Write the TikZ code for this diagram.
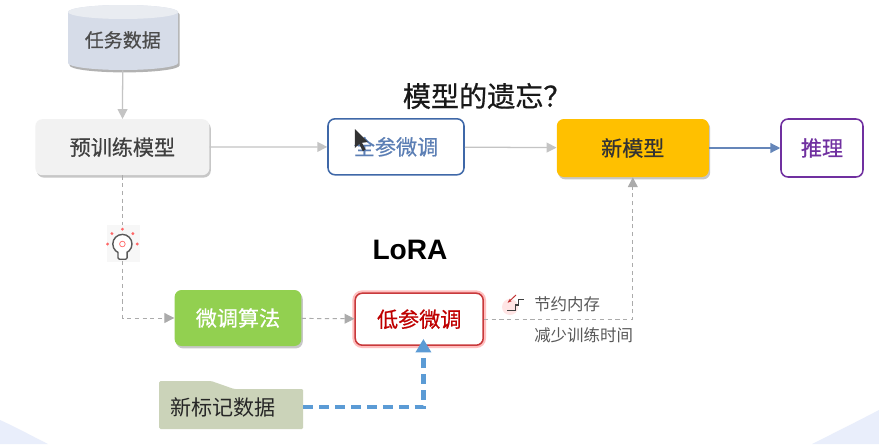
\documentclass[tikz,border=0pt]{standalone}
\usepackage{fontspec}
\setmainfont{Noto Sans CJK SC}
\newfontfamily\latinbold{Liberation Sans}
\newfontfamily\boxfont{Noto Sans CJK SC}[FakeBold=0.6]
\usepackage{tikz}
\usetikzlibrary{positioning,calc,arrows.meta,shadows}
\definecolor{linegray}{HTML}{ABABAB}
\definecolor{softline}{HTML}{C4C4C4}
\definecolor{dbfill}{HTML}{D6DCE8}
\definecolor{dbtop}{HTML}{E9ECF1}
\definecolor{paleblue}{HTML}{E9EEFB}
\definecolor{blueedge}{HTML}{3F68A8}
\definecolor{purpleedge}{HTML}{7030A0}
\definecolor{algogreen}{HTML}{92D050}
\definecolor{amber}{HTML}{FFC000}
\definecolor{loredge}{HTML}{C8393B}
\definecolor{notefill}{HTML}{CBD3B9}
\definecolor{dataline}{HTML}{5B9BD5}

\begin{document}
\begin{tikzpicture}[
    softshadow/.style={drop shadow={shadow xshift=1pt, shadow yshift=-1.7pt, fill=black!40, opacity=0.55}},
    boxnode/.style={rounded corners=5pt, minimum height=1.4cm, align=center, font=\boxfont\fontsize{15}{15}\selectfont},
    outlined/.style={boxnode, draw, line width=1.1pt, fill=white},
    flow/.style={-{Triangle[length=7pt, width=7pt]}, color=softline, line width=0.9pt},
    dashflow/.style={-{Triangle[length=7pt, width=7pt]}, color=linegray, line width=0.7pt, dash pattern=on 3pt off 2.5pt},
    smalltext/.style={font=\fontsize{11.7}{12}\selectfont, text=black!65, anchor=west, inner sep=0pt},
    headline/.style={font=\boxfont\fontsize{20}{20}\selectfont, text=black!90},
]
% page and pale corners
\path[use as bounding box, fill=white] (0, 0) rectangle (21.975, 11.1);
\fill[paleblue] (0, 0) -- (0, 0.6) .. controls (0.4, 0.42) and (0.8, 0.2) .. (1.2, 0) -- cycle;
\fill[paleblue] (21.975, 0) -- (21.975, 0.85) .. controls (21.4, 0.55) and (20.8, 0.25) .. (20.3, 0) -- cycle;

% data drum
\def\drumbody{(1.7, 10.8) -- (1.7, 9.525) arc[start angle=180, end angle=360, x radius=1.375, y radius=0.175] -- (4.45, 10.8) arc[start angle=0, end angle=180, x radius=1.375, y radius=0.175] -- cycle}
\fill[black!40, opacity=0.75, shift={(0.04, -0.06)}] \drumbody;
\fill[dbfill] \drumbody;
\fill[dbtop] (3.075, 10.8) ellipse[x radius=1.375, y radius=0.175];
\node[minimum width=2.75cm, minimum height=1.5cm, inner sep=0pt, font=\boxfont\fontsize{13.5}{14}\selectfont, text=black!70] (db) at (3.07, 10.1) {任务数据};

% top row
\node[boxnode, fill=black!5, minimum width=4.35cm, text=black!75, softshadow] (pretrain) at (3.06, 7.42) {预训练模型};
\node[outlined, draw=blueedge, text=blueedge!85, minimum width=3.4cm] (fulltune) at (9.9, 7.43) {全参微调};
\node[boxnode, fill=amber, minimum width=3.8cm, minimum height=1.45cm, text=black!80, softshadow] (newmodel) at (15.82, 7.4) {新模型};
\node[outlined, draw=purpleedge, text=purpleedge, minimum width=2.05cm, minimum height=1.45cm] (infer) at (20.55, 7.4) {推理};
\node[headline] (forget) at (12.18, 8.7) {模型的遗忘？};

% bottom row
\node[boxnode, fill=algogreen, minimum width=3.17cm, text=white, softshadow] (algo) at (5.95, 3.15) {微调算法};
\node[outlined, draw=loredge, text=red!75!black, minimum width=3.2cm, minimum height=1.3cm,
      preaction={draw=red!25, line width=4pt}] (lora) at (10.48, 3.12) {低参微调};
\node[font=\latinbold\fontsize{20}{20}\selectfont\bfseries, text=black] (loratitle) at (10.25, 4.85) {LoRA};

% folder note
\fill[notefill, rounded corners=1pt] (3.98, 0.375) -- (3.98, 1.575) -- (5.28, 1.575) -- (5.85, 1.375) -- (7.58, 1.375) -- (7.58, 0.375) -- cycle;
\node[inner xsep=0.27cm, inner ysep=0pt, text width=3.06cm, minimum height=1cm, align=left,
      font=\fontsize{15}{15}\selectfont, text=black!85] (newdata) at (5.78, 0.925) {新标记数据};

% bulb icon
\fill[black!3] (2.67, 4.55) rectangle (3.5, 5.475);
\node[circle, draw=black!65, line width=1pt, minimum size=0.48cm, inner sep=0pt, fill=white] (bulb) at (3.06, 5) {};
\draw[black!65, line width=1pt, rounded corners=1pt, fill=white] (2.95, 4.8) -- (2.95, 4.62) -- (3.18, 4.62) -- (3.18, 4.8);
\draw[red!60, line width=0.5pt] (bulb.center) circle (0.07);
\foreach \ang in {0, 45, 90, 135, 180} {
    \fill[red!60] ($(bulb.center)+(\ang:0.37)$) circle (0.04);
}
\coordinate (bulbtop) at (3.06, 5.47);
\coordinate (bulbfoot) at (3.06, 4.58);

% step icon
\fill[red!10] (12.75, 3.425) circle (0.2);
\draw[black!75, line width=0.8pt] (12.68, 3.33) -- (12.88, 3.33) -- (12.88, 3.475) -- (12.96, 3.475) -- (12.96, 3.62) -- (13.1, 3.62);
\draw[-{Stealth[length=3pt]}, red!70!black!80, line width=0.7pt] (12.9, 3.725) -- (12.69, 3.53);

% side notes
\node[smalltext] (saving) at (13.35, 3.5) {节约内存};
\node[smalltext] (faster) at (13.35, 2.72) {减少训练时间};

% cursor
\fill[black!80] (8.87, 7.875) -- (8.87, 7.4) -- (8.98, 7.5) -- (9.07, 7.32) -- (9.14, 7.36) -- (9.05, 7.53) -- (9.2, 7.55) -- cycle;

% connectors
\draw[flow] (db) -- (pretrain);
\draw[flow] (pretrain) -- (fulltune);
\draw[flow] (fulltune) -- (newmodel);
\draw[-{Triangle[length=7pt, width=7pt]}, color=blueedge!80, line width=0.9pt] (newmodel) -- (infer);
\draw[color=linegray, line width=0.7pt, dash pattern=on 3pt off 2.5pt] (pretrain) -- (bulbtop);
\draw[dashflow] (bulbfoot) |- (algo.west);
\draw[dashflow] (algo) -- (lora);
\draw[dashflow] (lora.east) -| (newmodel.south);
\draw[-{Triangle[length=9.5pt, width=10.6pt]}, color=dataline, line width=3.5pt, dash pattern=on 7pt off 4.3pt, shorten >=-5pt]
    (newdata.east) -| ([xshift=3pt]lora.south);
\end{tikzpicture}
\end{document}
